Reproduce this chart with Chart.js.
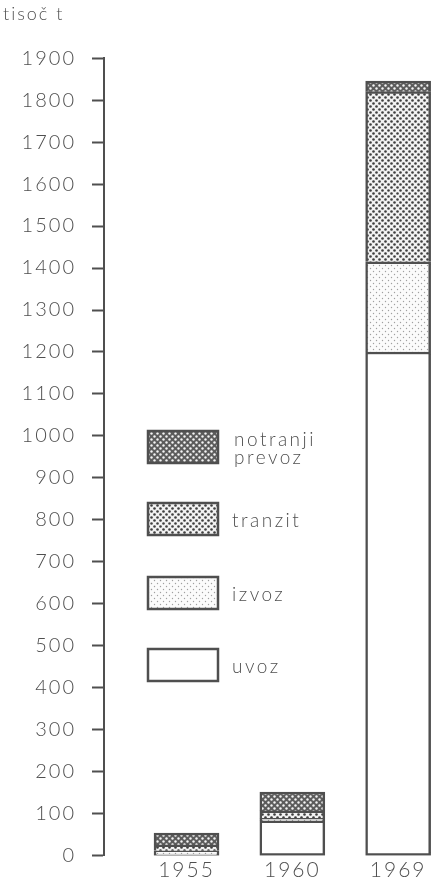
<!DOCTYPE html>
<html>
<head>
<meta charset="utf-8">
<script src="https://cdn.jsdelivr.net/npm/chart.js@4.4.1/dist/chart.umd.min.js"></script>
<style>
  html, body { margin: 0; padding: 0; background: #fff; }
  #wrap { position: relative; width: 435px; height: 885px; }
</style>
</head>
<body>
<div id="wrap"><canvas id="promet"></canvas></div>
<script>
// Data (thousand tonnes)
const years = ['1955', '1960', '1969'];
const uvoz = [4, 83, 1200];
const izvoz = [8, 6, 215];
const tranzit = [14, 18, 405];
const notranji = [28, 45, 25];
const seriesNames = ['uvoz', 'izvoz', 'tranzit', 'notranji prevoz'];

const ink = '#4f4f4f';
const fontFamily = "Lato, 'Open Sans', 'DejaVu Sans', sans-serif";
const spacing = '2px';

// dotted fills, like the screen tints in the print
function makePattern(bg, dot, r, step) {
    const c = document.createElement('canvas');
    c.width = step * 2;
    c.height = step * 2;
    const g = c.getContext('2d');
    g.fillStyle = bg;
    g.fillRect(0, 0, c.width, c.height);
    g.fillStyle = dot;
    [[step / 2, step / 2], [step * 1.5, step * 1.5]].forEach(function (p) {
        g.beginPath();
        g.arc(p[0], p[1], r, 0, Math.PI * 2);
        g.fill();
    });
    return g.createPattern(c, 'repeat');
}

const fills = {
    uvoz: '#ffffff',
    izvoz: makePattern('#fbfbfb', '#a0a0a0', 0.7, 3),
    tranzit: makePattern('#f2f2f2', '#3e3e3e', 1.3, 3),
    notranji: makePattern('#5c5c5c', '#f4f4f4', 1.2, 3)
};

const edge = { top: 2.5, left: 2.5, right: 2.5, bottom: 0 };

function points(values) {
    return values.map(function (v, i) { return { x: i, y: v }; });
}

// the print has wide letter spacing; canvas resets it on resize, so set it again
const spacingPlugin = {
    id: 'spacing',
    beforeUpdate: function (chart) { chart.ctx.letterSpacing = spacing; },
    beforeLayout: function (chart) { chart.ctx.letterSpacing = spacing; },
    beforeDraw: function (chart) { chart.ctx.letterSpacing = spacing; }
};

// legend drawn inside the plot, boxes with the same fills
const legendPlugin = {
    id: 'boxLegend',
    afterDraw: function (chart) {
        const ctx = chart.ctx;
        const left = chart.chartArea.left + 44;
        const items = [
            { fill: fills.notranji, top: 431, lines: ['notranji', 'prevoz'] },
            { fill: fills.tranzit, top: 503, lines: ['tranzit'] },
            { fill: fills.izvoz, top: 577, lines: ['izvoz'] },
            { fill: fills.uvoz, top: 649, lines: ['uvoz'] }
        ];
        ctx.save();
        ctx.font = '300 19px ' + fontFamily;
        ctx.letterSpacing = '2.5px';
        ctx.textBaseline = 'middle';
        items.forEach(function (it) {
            ctx.fillStyle = it.fill;
            ctx.fillRect(left, it.top, 70, 32);
            ctx.strokeStyle = ink;
            ctx.lineWidth = 2.5;
            ctx.strokeRect(left, it.top, 70, 32);
            ctx.fillStyle = ink;
            if (it.lines.length === 2) {
                ctx.fillText(it.lines[0], left + 86, it.top + 9);
                ctx.fillText(it.lines[1], left + 86, it.top + 27);
            } else {
                ctx.fillText(it.lines[0], left + 84, it.top + 18);
            }
        });
        ctx.restore();
    }
};

new Chart(document.getElementById('promet'), {
    type: 'bar',
    data: {
        datasets: [
            {
                label: seriesNames[0],
                data: points(uvoz),
                backgroundColor: fills.uvoz,
                borderColor: ink,
                borderWidth: { top: 2.5, left: 2.5, right: 2.5, bottom: 2.5 },
                borderSkipped: false
            },
            {
                label: seriesNames[1],
                data: points(izvoz),
                backgroundColor: fills.izvoz,
                borderColor: ink,
                borderWidth: edge
            },
            {
                label: seriesNames[2],
                data: points(tranzit),
                backgroundColor: fills.tranzit,
                borderColor: ink,
                borderWidth: edge
            },
            {
                label: seriesNames[3],
                data: points(notranji),
                backgroundColor: fills.notranji,
                borderColor: ink,
                borderWidth: edge
            }
        ]
    },
    options: {
        responsive: true,
        maintainAspectRatio: false,
        animation: false,
        barThickness: 65,
        layout: { padding: { left: 3, right: 3, top: 0, bottom: 0 } },
        plugins: {
            legend: { display: false },
            tooltip: { enabled: false },
            title: {
                display: true,
                text: 'tisoč t',
                align: 'start',
                color: ink,
                font: { family: fontFamily, size: 18, weight: '300' },
                padding: { top: 3, bottom: 33.5 }
            }
        },
        scales: {
            x: {
                type: 'linear',
                stacked: true,
                offset: false,
                min: -0.78,
                max: 2.32,
                afterBuildTicks: function (axis) {
                    axis.ticks = years.map(function (_, i) { return { value: i }; });
                },
                grid: { display: false, tickLength: 0 },
                border: { display: false },
                ticks: {
                    color: ink,
                    padding: 2,
                    font: { family: fontFamily, size: 21, weight: '300' },
                    callback: function (value) { return years[value]; }
                }
            },
            y: {
                stacked: true,
                min: 0,
                max: 1900,
                afterFit: function (axis) { axis.width = 101; },
                grid: {
                    drawOnChartArea: false,
                    tickLength: 12,
                    tickColor: ink,
                    tickWidth: 2
                },
                border: { display: true, color: ink, width: 2 },
                ticks: {
                    stepSize: 100,
                    color: ink,
                    padding: 16,
                    font: { family: fontFamily, size: 20, weight: '300' },
                    callback: function (value) { return String(value); }
                }
            }
        }
    },
    plugins: [spacingPlugin, legendPlugin]
});
</script>
</body>
</html>
